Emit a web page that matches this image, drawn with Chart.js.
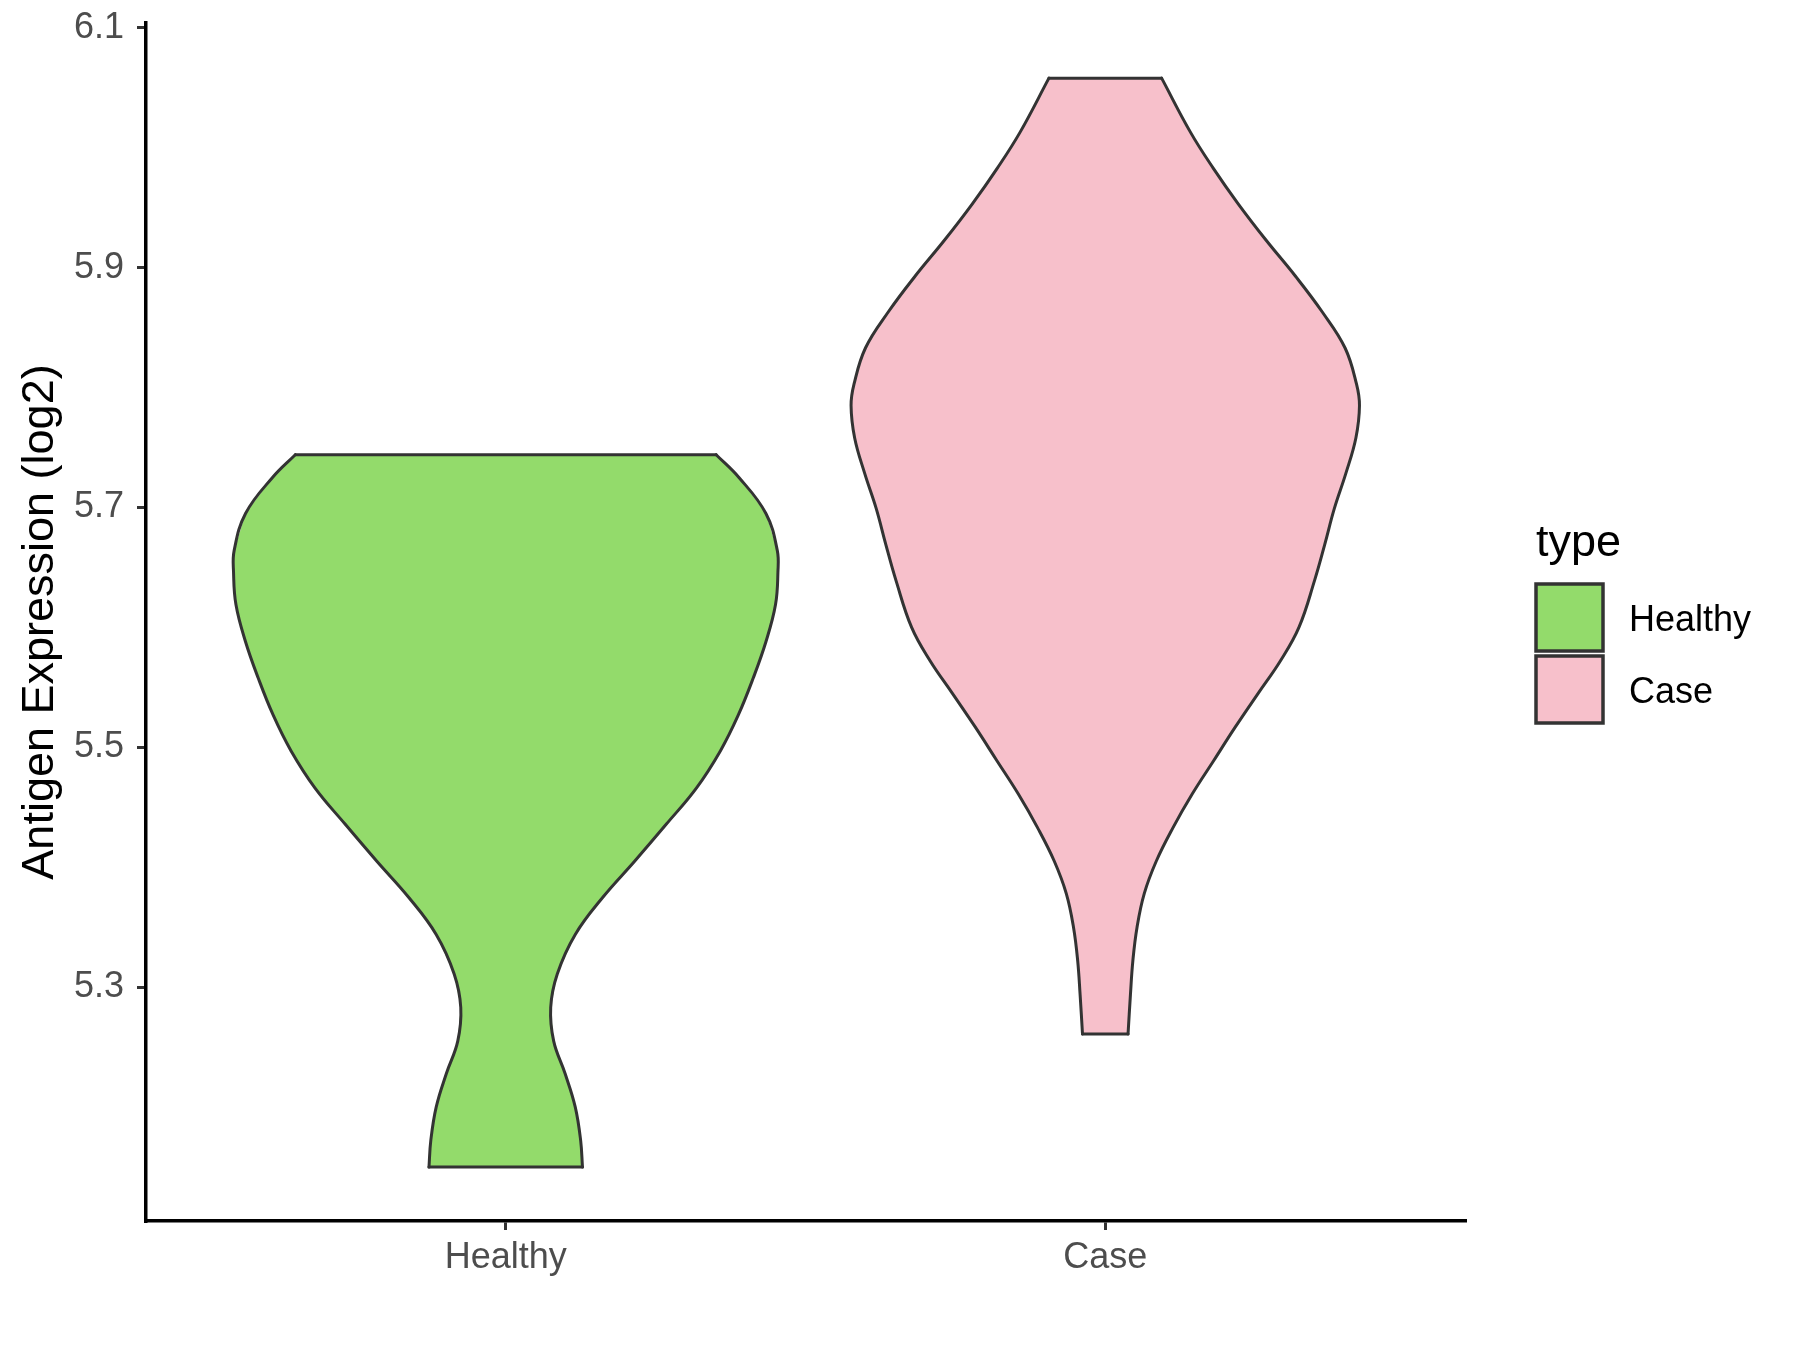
<!DOCTYPE html>
<html>
<head>
<meta charset="utf-8">
<title>Antigen Expression</title>
<script src="https://cdn.jsdelivr.net/npm/chart.js@4.4.1/dist/chart.umd.min.js"></script>
<style>
  body { margin: 0; background: #fff; }
  #chart { display: block; }
</style>
</head>
<body>
<canvas id="chart" width="1800" height="1350"></canvas>
<script>
// Categories on the x axis
const categories = ['Healthy', 'Case'];

// Violin outlines: expression level (log2), top to bottom,
// and the half width of the violin at that level (in x axis units)
const healthyLevels = [5.744, 5.725, 5.695, 5.664, 5.646, 5.619, 5.588, 5.558, 5.527, 5.497, 5.466,
    5.436, 5.405, 5.375, 5.344, 5.311, 5.283, 5.255, 5.228, 5.200, 5.172, 5.150];
const healthyWidths = [0.351, 0.389, 0.434, 0.453, 0.454, 0.450, 0.434, 0.413, 0.388, 0.358, 0.318,
    0.268, 0.215, 0.162, 0.116, 0.086, 0.075, 0.080, 0.099, 0.116, 0.125, 0.128];

const caseLevels = [6.058, 6.013, 5.983, 5.953, 5.923, 5.893, 5.863, 5.833, 5.803, 5.785, 5.758, 5.728,
    5.699, 5.669, 5.639, 5.600, 5.572, 5.545, 5.517, 5.489, 5.461, 5.433, 5.405, 5.378, 5.350,
    5.322, 5.294, 5.261];
const caseWidths = [0.094, 0.142, 0.180, 0.222, 0.268, 0.317, 0.362, 0.400, 0.419, 0.424, 0.418, 0.401,
    0.382, 0.366, 0.349, 0.323, 0.292, 0.255, 0.217, 0.181, 0.145, 0.113, 0.085, 0.065, 0.053,
    0.046, 0.042, 0.038];

// Tick labels on the y axis
const yTicks = [5.3, 5.5, 5.7, 5.9, 6.1];

const yTitle = 'Antigen Expression (log2)';
const legendTitle = 'type';

// Styles
const fillColors = ['#93DB6B', '#F7C0CB'];
const outlineColor = '#333333';
const tickTextColor = '#4D4D4D';

Chart.defaults.font.family = "'Liberation Sans', Arial, Helvetica, sans-serif";

// Build the datasets for one violin: filled shape, two curved sides, flat top and bottom.
// order 2 for the fill so it is drawn under the outlines
function violinDatasets(levels, widths, center, color) {
    const left = levels.map((v, i) => ({ x: center - widths[i], y: v }));
    const right = levels.map((v, i) => ({ x: center + widths[i], y: v }));
    const last = levels.length - 1;

    const shape = {
        data: left.concat(right.slice().reverse()),
        order: 2,
        fill: 'shape',
        backgroundColor: color,
        borderWidth: 0,
        tension: 0,
        pointRadius: 0
    };
    const side = (pts) => ({
        data: pts,
        order: 1,
        fill: false,
        borderColor: outlineColor,
        borderWidth: 3,
        borderCapStyle: 'round',
        borderJoinStyle: 'round',
        tension: 0.4,
        pointRadius: 0
    });
    const ends = {
        data: [left[0], right[0], { x: center, y: null }, left[last], right[last]],
        order: 1,
        fill: false,
        spanGaps: false,
        borderColor: outlineColor,
        borderWidth: 3,
        borderCapStyle: 'round',
        tension: 0,
        pointRadius: 0
    };
    return [shape, side(left), side(right), ends];
}

// Legend drawn beside the plot like the original
const legendPlugin = {
    id: 'typeLegend',
    afterDraw(chart) {
        const ctx = chart.ctx;
        const font = Chart.defaults.font.family;
        ctx.save();
        ctx.fillStyle = '#000';
        ctx.textAlign = 'left';
        ctx.textBaseline = 'alphabetic';
        ctx.font = '45px ' + font;
        ctx.fillText(legendTitle, 1536, 556);

        const size = 67;
        categories.forEach((name, i) => {
            const top = 584 + i * 72;
            ctx.fillStyle = fillColors[i];
            ctx.fillRect(1536, top, size, size);
            ctx.lineWidth = 3.5;
            ctx.strokeStyle = outlineColor;
            ctx.strokeRect(1536, top, size, size);
            ctx.fillStyle = '#000';
            ctx.font = '36px ' + font;
            ctx.textBaseline = 'middle';
            ctx.fillText(name, 1629, top + size / 2 + 4);
        });
        ctx.restore();
    }
};

const datasets = [
    ...violinDatasets(healthyLevels, healthyWidths, 1, fillColors[0]),
    ...violinDatasets(caseLevels, caseWidths, 2, fillColors[1])
];

new Chart(document.getElementById('chart').getContext('2d'), {
    type: 'line',
    data: { datasets: datasets },
    options: {
        responsive: false,
        animation: false,
        devicePixelRatio: 1,
        layout: { padding: { top: 23, right: 335, bottom: 0, left: 0 } },
        plugins: {
            legend: { display: false },
            tooltip: { enabled: false }
        },
        scales: {
            x: {
                type: 'linear',
                min: 0.4,
                max: 2.6,
                afterFit: (scale) => {
                    scale.height = 129;
                    scale.paddingLeft = 0;
                    scale.paddingRight = 0;
                },
                afterBuildTicks: (scale) => {
                    scale.ticks = categories.map((c, i) => ({ value: i + 1 }));
                },
                ticks: {
                    callback: (value) => categories[value - 1],
                    color: tickTextColor,
                    font: { size: 36 },
                    padding: 6,
                    maxRotation: 0
                },
                grid: {
                    drawOnChartArea: false,
                    drawTicks: true,
                    tickLength: 9,
                    lineWidth: 3,
                    color: outlineColor
                },
                border: { display: true, color: '#000', width: 3.5 }
            },
            y: {
                type: 'linear',
                min: 5.105,
                max: 6.104,
                afterFit: (scale) => {
                    scale.width = 146;
                    scale.paddingTop = 0;
                    scale.paddingBottom = 0;
                },
                afterBuildTicks: (scale) => {
                    scale.ticks = yTicks.map(v => ({ value: v }));
                },
                ticks: {
                    callback: (value) => value.toFixed(1),
                    color: tickTextColor,
                    font: { size: 36 },
                    padding: 13
                },
                grid: {
                    drawOnChartArea: false,
                    drawTicks: true,
                    tickLength: 9,
                    lineWidth: 3,
                    color: outlineColor
                },
                border: { display: true, color: '#000', width: 3.5 },
                title: {
                    display: true,
                    text: yTitle,
                    color: '#000',
                    font: { size: 45 },
                    padding: { top: 14, bottom: 0 }
                }
            }
        }
    },
    plugins: [legendPlugin]
});
</script>
</body>
</html>
